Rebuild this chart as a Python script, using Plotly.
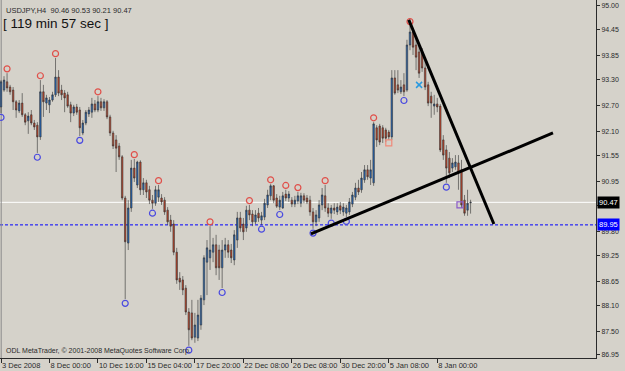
import plotly.graph_objects as go

# ---------------- data (USDJPY H4) ----------------
opens = [92.67, 93.06, 93.25, 93.13, 93.06, 92.79, 92.58, 92.76, 92.49, 92.35,
         92.49, 92.30, 92.25, 91.98, 93.02, 92.76, 92.72, 92.83, 92.95, 93.36,
         93.06, 92.99, 92.95, 92.72, 92.53, 92.67, 92.60, 92.07, 92.30, 92.51,
         92.55, 92.74, 92.60, 92.79, 92.65, 92.79, 92.44, 92.07, 91.91, 91.77,
         91.52, 90.57, 89.53, 90.34, 91.26, 90.87, 91.40, 90.76, 90.92, 90.76,
         90.52, 90.45, 90.59, 90.57, 90.52, 90.29, 90.06, 89.97, 89.32, 88.72,
         88.68, 88.49, 87.94, 87.92, 87.36, 87.34, 87.64, 88.22, 89.09, 89.19,
         89.32, 89.49, 89.37, 88.96, 89.37, 89.49, 89.37, 89.14, 89.60, 90.11,
         89.97, 89.88, 90.29, 90.20, 90.02, 90.22, 90.06, 90.13, 90.41, 90.62,
         90.85, 90.57, 90.36, 90.34, 90.66, 90.57, 90.52, 90.43, 90.50, 90.45,
         90.62, 90.57, 90.52, 90.25, 90.02, 90.11, 90.41, 90.62, 90.34, 90.22,
         90.34, 90.25, 90.39, 90.25, 90.22, 90.25, 90.43, 90.59, 90.80, 90.76,
         90.99, 91.22, 91.03, 90.92, 92.19, 92.23, 92.19, 92.14, 92.09, 91.98,
         93.34, 93.18, 93.02, 93.18, 93.06, 94.10, 94.40, 94.10, 93.94, 93.92,
         93.57, 93.18, 92.92, 92.69, 92.74, 92.69, 91.91, 91.68, 91.49, 91.26,
         91.29, 91.38, 91.22, 90.52, 90.29, 90.46]
highs = [93.29, 93.38, 93.45, 93.18, 93.13, 92.83, 92.83, 92.99, 92.53, 92.55,
         92.60, 92.37, 92.32, 93.29, 93.18, 92.95, 92.90, 93.02, 93.80, 93.52,
         93.18, 93.06, 93.02, 92.79, 92.72, 92.74, 92.67, 92.37, 92.60, 92.67,
         92.88, 92.83, 92.92, 92.88, 92.85, 92.83, 92.49, 92.12, 92.02, 91.84,
         91.56, 90.62, 90.52, 91.45, 91.47, 91.43, 91.44, 91.03, 90.99, 90.85,
         90.64, 90.85, 90.87, 90.66, 90.59, 90.36, 90.18, 90.06, 89.42, 88.86,
         88.77, 88.56, 88.03, 88.22, 87.92, 88.22, 88.33, 89.25, 89.60, 89.92,
         89.65, 89.72, 89.49, 89.60, 89.65, 89.60, 89.51, 89.83, 90.25, 90.25,
         90.11, 90.39, 90.41, 90.29, 90.29, 90.34, 90.25, 90.55, 90.76, 90.89,
         90.87, 90.66, 90.62, 90.71, 90.76, 90.73, 90.59, 90.62, 90.71, 90.69,
         90.68, 90.64, 90.62, 90.34, 90.29, 90.52, 90.80, 90.87, 90.45, 90.41,
         90.45, 90.45, 90.48, 90.45, 90.41, 90.57, 90.71, 90.92, 90.99, 91.17,
         91.33, 91.33, 91.45, 92.32, 92.25, 92.28, 92.25, 92.19, 92.14, 93.52,
         93.52, 93.52, 93.29, 93.45, 94.22, 94.54, 94.49, 94.26, 94.10, 94.03,
         93.75, 93.25, 93.02, 92.95, 92.88, 92.74, 92.02, 91.79, 91.63, 91.49,
         91.56, 91.56, 91.45, 90.64, 90.76, 90.53]
lows = [92.53, 93.02, 93.02, 92.95, 92.60, 92.42, 92.53, 92.44, 92.25, 92.05,
        92.25, 92.14, 91.61, 91.91, 92.44, 92.60, 92.53, 92.79, 92.90, 92.92,
        92.83, 92.55, 92.65, 92.32, 92.46, 92.49, 92.00, 92.02, 92.25, 92.44,
        92.42, 92.55, 92.55, 92.58, 92.58, 92.39, 92.00, 91.70, 91.17, 91.45,
        90.52, 88.24, 89.37, 90.25, 90.94, 90.80, 90.64, 90.64, 90.57, 90.43,
        90.32, 90.39, 90.48, 90.41, 90.18, 89.95, 89.79, 89.25, 88.59, 88.45,
        88.33, 87.87, 87.16, 87.29, 87.23, 87.27, 87.53, 88.10, 88.33, 88.91,
        89.09, 88.79, 88.68, 88.49, 89.19, 89.19, 89.07, 89.02, 89.42, 89.79,
        89.60, 89.79, 90.06, 89.92, 89.97, 90.02, 89.95, 90.06, 90.34, 90.52,
        90.45, 90.34, 90.29, 90.32, 90.50, 90.48, 90.36, 90.36, 90.43, 90.36,
        90.45, 90.43, 90.16, 89.86, 89.92, 90.02, 90.29, 90.25, 90.13, 90.09,
        90.20, 90.18, 90.20, 90.16, 90.13, 90.18, 90.36, 90.52, 90.64, 90.69,
        90.92, 90.99, 90.87, 90.85, 91.75, 91.79, 91.84, 91.86, 91.91, 91.91,
        92.95, 92.99, 92.97, 92.92, 93.02, 93.98, 93.87, 93.52, 93.34, 93.48,
        93.06, 92.69, 92.42, 92.49, 92.55, 91.63, 91.45, 90.92, 91.03, 91.17,
        91.22, 90.76, 90.34, 90.16, 90.16, 90.21]
closes = [93.25, 93.29, 93.11, 93.02, 92.79, 92.60, 92.76, 92.49, 92.32, 92.46,
          92.30, 92.21, 91.98, 93.02, 92.79, 92.88, 92.83, 92.95, 93.36, 92.99,
          92.95, 92.88, 92.69, 92.53, 92.67, 92.55, 92.19, 92.30, 92.55, 92.60,
          92.74, 92.60, 92.79, 92.65, 92.79, 92.44, 92.07, 91.77, 91.72, 91.52,
          90.57, 89.56, 90.34, 91.26, 91.03, 91.40, 90.76, 90.92, 90.71, 90.52,
          90.45, 90.76, 90.76, 90.48, 90.25, 90.02, 89.92, 89.32, 88.68, 88.63,
          88.45, 87.94, 87.53, 87.34, 87.64, 87.87, 88.26, 89.19, 89.42, 89.37,
          89.49, 88.96, 88.96, 89.37, 89.49, 89.32, 89.19, 89.72, 90.11, 89.88,
          89.79, 90.29, 90.18, 90.02, 90.18, 90.11, 90.16, 90.45, 90.64, 90.85,
          90.52, 90.38, 90.52, 90.62, 90.57, 90.66, 90.43, 90.52, 90.62, 90.62,
          90.52, 90.48, 90.25, 90.02, 90.18, 90.41, 90.64, 90.34, 90.22, 90.34,
          90.29, 90.36, 90.29, 90.36, 90.34, 90.48, 90.64, 90.80, 90.71, 91.03,
          91.22, 91.06, 91.22, 92.28, 91.91, 91.86, 91.95, 91.95, 91.98, 93.34,
          92.99, 93.06, 93.13, 93.02, 94.10, 94.40, 94.05, 93.82, 93.45, 93.57,
          93.13, 92.76, 92.76, 92.74, 92.67, 91.68, 91.56, 91.26, 91.15, 91.38,
          91.40, 91.15, 90.41, 90.22, 90.45, 90.47]
bars = list(range(len(closes)))

# fractal indicator bars
fractal_up = [2, 13, 18, 32, 44, 52, 69, 82, 89, 94, 98, 107, 123, 135]
fractal_down = [0, 12, 26, 41, 50, 62, 73, 86, 92, 103, 109, 114, 133, 147]

# other signal symbols (bar, price)
sig_pink = ([128], [91.84])
sig_purple = ([151.5], [90.41])
sig_cyan = ([138], [93.18])

# hand drawn trend lines (bar, price)
trend1_x, trend1_y = [134.6, 162.7], [94.68, 89.97]
trend2_x, trend2_y = [102.3, 182.2], [89.74, 92.07]

last_price = 90.47
level_line = 89.95

x_tick_bars = [0, 16, 32, 48, 64, 80, 96, 112, 128, 144]
x_tick_text = ["3 Dec 2008", "8 Dec 00:00", "10 Dec 16:00", "15 Dec 04:00", "17 Dec 20:00",
               "22 Dec 08:00", "26 Dec 08:00", "30 Dec 20:00", "5 Jan 08:00", "8 Jan 00:00"]
y_ticks = [95.00, 94.45, 93.85, 93.30, 92.70, 92.10, 91.55, 90.95, 90.40, 89.80,
           89.25, 88.65, 88.10, 87.50, 86.95]

# ---------------- figure ----------------
BG = "#D5D2CA"
FONT = "Liberation Sans, Arial, sans-serif"

fig = go.Figure()
fig.add_trace(go.Candlestick(
    x=bars, open=opens, high=highs, low=lows, close=closes,
    increasing=dict(fillcolor="#2566B8", line=dict(color="#303030", width=0.6)),
    decreasing=dict(fillcolor="#C0452A", line=dict(color="#303030", width=0.6)),
    whiskerwidth=0, showlegend=False, hoverinfo="skip"))

off = 0.10
fig.add_trace(go.Scatter(
    x=fractal_up, y=[highs[i] + off for i in fractal_up], mode="markers",
    marker=dict(symbol="circle-open", size=6, color="#E0504A", line=dict(width=1.2)),
    showlegend=False, hoverinfo="skip"))
fig.add_trace(go.Scatter(
    x=fractal_down, y=[lows[i] - off for i in fractal_down], mode="markers",
    marker=dict(symbol="circle-open", size=6, color="#4A4AE0", line=dict(width=1.2)),
    showlegend=False, hoverinfo="skip"))
fig.add_trace(go.Scatter(x=sig_pink[0], y=sig_pink[1], mode="markers",
    marker=dict(symbol="square-open", size=6, color="#F08A7A", line=dict(width=1.2)),
    showlegend=False, hoverinfo="skip"))
fig.add_trace(go.Scatter(x=sig_purple[0], y=sig_purple[1], mode="markers",
    marker=dict(symbol="square-open", size=6, color="#8A5AC8", line=dict(width=1.2)),
    showlegend=False, hoverinfo="skip"))
fig.add_trace(go.Scatter(x=sig_cyan[0], y=sig_cyan[1], mode="markers",
    marker=dict(symbol="x-thin-open", size=6, color="#2A9AE0", line=dict(width=1.5)),
    showlegend=False, hoverinfo="skip"))

for tx, ty in [(trend1_x, trend1_y), (trend2_x, trend2_y)]:
    fig.add_trace(go.Scatter(x=tx, y=ty, mode="lines",
                             line=dict(color="#000000", width=3),
                             showlegend=False, hoverinfo="skip"))

shapes = [
    dict(type="line", xref="paper", x0=0, x1=1, yref="y", y0=last_price, y1=last_price,
         line=dict(color="#FFFFFF", width=1), layer="below"),
    dict(type="line", xref="paper", x0=0, x1=1, yref="y", y0=level_line, y1=level_line,
         line=dict(color="#0000FF", width=1, dash="3px,2px"), layer="below"),
    dict(type="line", xref="paper", x0=0.002, x1=0.002, yref="paper", y0=0, y1=1,
         line=dict(color="#8C8C8C", width=1), layer="below"),
]

annotations = [
    dict(xref="paper", yref="paper", x=4 / 596, y=1 - 10 / 358, xanchor="left", yanchor="middle",
         text="USDJPY,H4  90.46 90.53 90.21 90.47", showarrow=False,
         font=dict(family=FONT, size=7.5, color="#2a2a2a")),
    dict(xref="paper", yref="paper", x=1 / 596, y=1 - 23 / 358, xanchor="left", yanchor="middle",
         text="[ 119 min 57 sec ]", showarrow=False,
         font=dict(family=FONT, size=13.5, color="#111111")),
    dict(xref="paper", yref="paper", x=4 / 596, y=1 - 351 / 358, xanchor="left", yanchor="middle",
         text="ODL MetaTrader, © 2001-2008 MetaQuotes Software Corp.", showarrow=False,
         font=dict(family=FONT, size=7, color="#2a2a2a")),
    dict(xref="paper", yref="y", x=1, y=last_price, xanchor="left", yanchor="middle",
         xshift=1, text="%.2f" % last_price, showarrow=False, bgcolor="#000000",
         borderpad=1, font=dict(family=FONT, size=7.5, color="#FFFFFF")),
    dict(xref="paper", yref="y", x=1, y=level_line, xanchor="left", yanchor="middle",
         xshift=1, text="%.2f" % level_line, showarrow=False, bgcolor="#0000FF",
         borderpad=1, font=dict(family=FONT, size=7.5, color="#FFFFFF")),
]

fig.update_layout(
    width=625, height=371,
    margin=dict(l=0, r=29, t=0, b=13, pad=0),
    paper_bgcolor=BG, plot_bgcolor=BG,
    shapes=shapes, annotations=annotations,
    font=dict(family=FONT, size=7.5, color="#2a2a2a"),
    xaxis=dict(range=[-0.33, 196.4], showgrid=False, zeroline=False,
               showline=True, linecolor="#2a2a2a", linewidth=1,
               ticks="outside", ticklen=4, tickcolor="#2a2a2a",
               tickvals=x_tick_bars, ticktext=x_tick_text, tickangle=0,
               ticklabelposition="outside right", ticklabelstandoff=0,
               tickfont=dict(family=FONT, size=7.5, color="#2a2a2a"),
               rangeslider=dict(visible=False), fixedrange=True, automargin=False),
    yaxis=dict(range=[86.879, 95.138], side="right", showgrid=False, zeroline=False,
               showline=True, linecolor="#2a2a2a", linewidth=1,
               ticks="outside", ticklen=3, tickcolor="#2a2a2a",
               tickvals=y_ticks, ticktext=["%.2f" % v for v in y_ticks],
               tickfont=dict(family=FONT, size=7, color="#2a2a2a"),
               fixedrange=True, automargin=False),
)

fig.write_html("out.html")
